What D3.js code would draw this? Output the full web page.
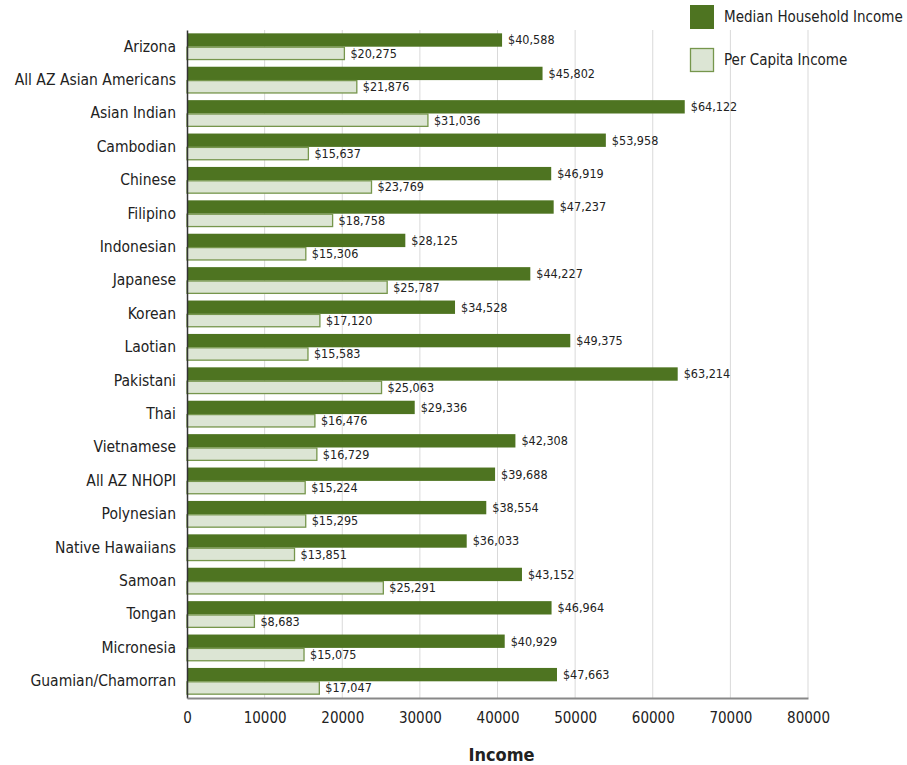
<!DOCTYPE html>
<html>
<head>
<meta charset="utf-8">
<script src="https://cdn.jsdelivr.net/npm/d3@7"></script>
<style>
  body { margin: 0; background: #fff; }
  text { font-family: "Liberation Sans Narrow", "DejaVu Sans Condensed", "Liberation Sans", sans-serif; fill: #222; }
</style>
</head>
<body>
<div id="chart"></div>
<script>
const categories = ['Arizona', 'All AZ Asian Americans', 'Asian Indian', 'Cambodian', 'Chinese', 'Filipino',
  'Indonesian', 'Japanese', 'Korean', 'Laotian', 'Pakistani', 'Thai', 'Vietnamese', 'All AZ NHOPI',
  'Polynesian', 'Native Hawaiians', 'Samoan', 'Tongan', 'Micronesia', 'Guamian/Chamorran'];
const medianHousehold = [40588, 45802, 64122, 53958, 46919, 47237, 28125, 44227, 34528, 49375,
  63214, 29336, 42308, 39688, 38554, 36033, 43152, 46964, 40929, 47663];
const perCapita = [20275, 21876, 31036, 15637, 23769, 18758, 15306, 25787, 17120, 15583,
  25063, 16476, 16729, 15224, 15295, 13851, 25291, 8683, 15075, 17047];
const seriesNames = ['Median Household Income', 'Per Capita Income'];
const xTicks = [0, 10000, 20000, 30000, 40000, 50000, 60000, 70000, 80000];

const width = 907;
const height = 765;
const margin = { top: 30, bottom: 67, left: 187, right: 99 };
const innerW = width - margin.left - margin.right;
const innerH = height - margin.top - margin.bottom;
const dark = '#4e7421';
const light = '#dce5d4';
const lightStroke = '#76964c';

const svg = d3.select('#chart').append('svg')
    .attr('width', width)
    .attr('height', height);

const group = svg.append('g')
    .attr('transform', `translate(${margin.left}, ${margin.top})`);

const xScale = d3.scaleLinear()
    .domain([0, 80000])
    .range([0, innerW]);

const yScale = d3.scaleBand()
    .domain(categories)
    .range([0, innerH])
    .paddingInner(0.2)
    .paddingOuter(0.1);

const sub = d3.scaleBand()
    .domain(seriesNames)
    .range([0, yScale.bandwidth()]);

// gridlines
group.append('g')
    .selectAll('line')
    .data(xTicks.slice(1))
    .enter().append('line')
    .attr('x1', d => xScale(d)).attr('x2', d => xScale(d))
    .attr('y1', 0).attr('y2', innerH)
    .attr('stroke', '#d9d9d9');

const rows = categories.map((c, i) => ({ c, m: medianHousehold[i], p: perCapita[i] }));

group.selectAll('rect.med')
    .data(rows)
    .enter().append('rect')
    .attr('class', 'med')
    .attr('x', 0)
    .attr('y', d => yScale(d.c) + sub(seriesNames[0]))
    .attr('width', d => xScale(d.m))
    .attr('height', sub.bandwidth())
    .attr('fill', dark);

group.selectAll('rect.per')
    .data(rows)
    .enter().append('rect')
    .attr('class', 'per')
    .attr('x', 0)
    .attr('y', d => yScale(d.c) + sub(seriesNames[1]) + 0.5)
    .attr('width', d => xScale(d.p))
    .attr('height', sub.bandwidth() - 1)
    .attr('fill', light)
    .attr('stroke', lightStroke)
    .attr('stroke-width', 1.3);

const fmt = d3.format('$,');
group.selectAll('text.medl')
    .data(rows)
    .enter().append('text')
    .attr('x', d => xScale(d.m) + 6)
    .attr('y', d => yScale(d.c) + sub(seriesNames[0]) + sub.bandwidth() / 2)
    .attr('dy', '0.35em')
    .attr('font-size', 12.5)
    .text(d => fmt(d.m));

group.selectAll('text.perl')
    .data(rows)
    .enter().append('text')
    .attr('x', d => xScale(d.p) + 6)
    .attr('y', d => yScale(d.c) + sub(seriesNames[1]) + sub.bandwidth() / 2)
    .attr('dy', '0.35em')
    .attr('font-size', 12.5)
    .text(d => fmt(d.p));

// axes
const yAxis = group.append('g')
    .call(d3.axisLeft(yScale).tickSize(0).tickPadding(11));
yAxis.select('.domain').attr('stroke', '#333').attr('stroke-width', 1.5);
yAxis.selectAll('text').attr('font-size', 15.5).style('font-family', null);

const xAxis = group.append('g')
    .attr('transform', `translate(0, ${innerH})`)
    .call(d3.axisBottom(xScale).tickValues(xTicks).tickFormat(d3.format('d')).tickSize(0).tickPadding(14));
xAxis.select('.domain').attr('stroke', '#888').attr('stroke-width', 2);
xAxis.selectAll('text').attr('font-size', 15).style('font-family', null);

svg.append('text')
    .attr('x', margin.left + innerW / 2 + 4)
    .attr('y', 761)
    .attr('text-anchor', 'middle')
    .attr('font-size', 18)
    .attr('font-weight', 'bold')
    .text('Income');

// legend
const legend = svg.append('g').attr('transform', 'translate(690, 5)');
seriesNames.forEach((name, i) => {
  legend.append('rect')
      .attr('x', i ? 0.5 : 0).attr('y', i * 43 + (i ? 0.5 : 0))
      .attr('width', i ? 23 : 24).attr('height', i ? 23 : 24)
      .attr('fill', i ? light : dark)
      .attr('stroke', i ? lightStroke : 'none')
      .attr('stroke-width', 1.3);
  legend.append('text')
      .attr('x', 34).attr('y', i * 43 + 12)
      .attr('dy', '0.35em')
      .attr('font-size', 15)
      .text(name);
});
</script>
</body>
</html>
